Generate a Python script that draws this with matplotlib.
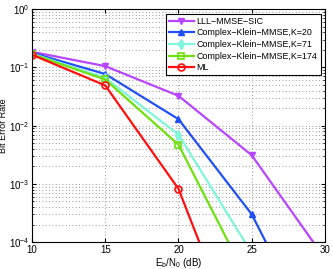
import matplotlib
matplotlib.use("Agg")
import matplotlib.pyplot as plt
from matplotlib.ticker import LogLocator, NullFormatter

plt.rcParams['font.family'] = ['Liberation Sans', 'DejaVu Sans']

snr = [10, 15, 20, 25, 30]

# BER values (points past 1e-4 are clipped by the axes)
ber_lll = [0.185, 0.105, 0.0325, 3.1e-3, 5.2e-5]
ber_k20 = [0.178, 0.077, 0.0129, 3.0e-4, 1.0e-6]
ber_k71 = [0.172, 0.066, 7.0e-3, 6.5e-5, 1.0e-7]
ber_k174 = [0.169, 0.062, 4.7e-3, 1.65e-5, 1.0e-8]
ber_ml = [0.165, 0.049, 8.2e-4, 5.0e-7, 1.0e-9]

labels = ['LLL\u2212MMSE\u2212SIC', 'Complex\u2212Klein\u2212MMSE,K=20',
          'Complex\u2212Klein\u2212MMSE,K=71', 'Complex\u2212Klein\u2212MMSE,K=174', 'ML']

fig = plt.figure(figsize=(3.33, 2.69), dpi=100)
ax = fig.add_axes([0.096, 0.100, 0.880, 0.866])

ax.semilogy(snr, ber_lll, color='#b845ff', marker='v', ms=5, lw=1.6, label=labels[0])
ax.semilogy(snr, ber_k20, color='#2050f5', marker='^', ms=5, lw=1.6, label=labels[1])
ax.semilogy(snr, ber_k71, color='#7ff5dc', marker='d', ms=5, lw=1.6, label=labels[2])
ax.semilogy(snr, ber_k174, color='#70e010', marker='s', ms=4, mfc='none', mew=1.2, lw=1.6, label=labels[3])
ax.semilogy(snr, ber_ml, color='#ff1010', marker='o', ms=5, mfc='none', mew=1.2, lw=1.6, label=labels[4])

ax.set_xlim(10, 30)
ax.set_ylim(1e-4, 1)
ax.set_xticks([10, 15, 20, 25, 30])
ax.yaxis.set_major_locator(LogLocator(base=10, numticks=10))
ax.yaxis.set_minor_locator(LogLocator(base=10, subs=range(2, 10), numticks=10))
ax.yaxis.set_minor_formatter(NullFormatter())
ax.grid(True, which='major', ls=(0, (1, 3)), color='#777777', lw=0.6)
ax.grid(True, which='minor', axis='y', ls=(0, (1, 3)), color='#777777', lw=0.6)
ax.tick_params(which='both', direction='in', top=True, right=True, labelsize=7, length=3, pad=2)
ax.tick_params(which='minor', length=1.5)

ax.set_xlabel('E$_\\mathregular{b}$/N$_\\mathregular{0}$ (dB)', fontsize=7, labelpad=1)
ax.set_ylabel('Bit Error Rate', fontsize=6.5)
ax.yaxis.set_label_coords(-0.083, 0.5)

leg = ax.legend(loc='upper right', fontsize=6.4, frameon=True, fancybox=False,
                edgecolor='black', framealpha=1, borderpad=0.35, labelspacing=0.3,
                handlelength=2.8, handletextpad=0.3, borderaxespad=0.5)
leg.get_frame().set_linewidth(0.8)

fig.savefig('out.png', dpi=100)
